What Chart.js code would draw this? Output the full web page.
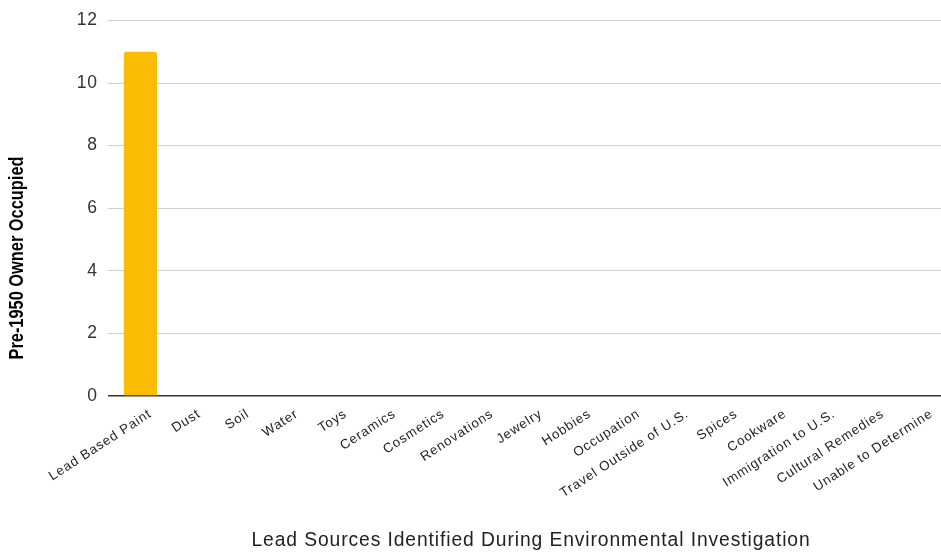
<!DOCTYPE html>
<html>
<head>
<meta charset="utf-8">
<script src="https://cdn.jsdelivr.net/npm/chart.js@4/dist/chart.umd.min.js"></script>
<style>
  html, body { margin: 0; padding: 0; background: #fff; overflow: hidden; }
  canvas { display: block; }
</style>
</head>
<body>
<canvas id="chart" width="946" height="552"></canvas>
<script>
// Lead source categories and the number of pre-1950 owner-occupied cases per source
const sources = [
  'Lead Based Paint', 'Dust', 'Soil', 'Water', 'Toys', 'Ceramics', 'Cosmetics',
  'Renovations', 'Jewelry', 'Hobbies', 'Occupation', 'Travel Outside of U.S.',
  'Spices', 'Cookware', 'Immigration to U.S.', 'Cultural Remedies', 'Unable to Determine'
];
const ownerOccupiedCounts = [11, 0, 0, 0, 0, 0, 0, 0, 0, 0, 0, 0, 0, 0, 0, 0, 0];

// Value axis range
const yMin = 0;
const yMax = 12;
const yStep = 2;

const xTitle = 'Lead Sources Identified During Environmental Investigation';
const yTitle = 'Pre-1950 Owner Occupied';

const FONT = '"Liberation Sans", Arial, sans-serif';

// Slightly wider lettering for all axis text
const spacingPlugin = {
  id: 'spacingPlugin',
  beforeDraw(chart) {
    chart.ctx.letterSpacing = '0.9px';
  }
};

// Vertical axis title, drawn bold and condensed along its length
const yTitlePlugin = {
  id: 'yTitlePlugin',
  afterDraw(chart) {
    const ctx = chart.ctx;
    ctx.save();
    ctx.letterSpacing = '0px';
    ctx.translate(18, 258);
    ctx.rotate(-Math.PI / 2);
    ctx.scale(0.84, 1);
    ctx.font = 'bold 19.5px ' + FONT;
    ctx.fillStyle = '#000';
    ctx.textAlign = 'center';
    ctx.textBaseline = 'middle';
    ctx.fillText(yTitle, 0, 0);
    ctx.restore();
  }
};

new Chart(document.getElementById('chart'), {
  type: 'bar',
  data: {
    labels: sources,
    datasets: [{
      data: ownerOccupiedCounts,
      backgroundColor: '#FBBC04',
      borderWidth: 0,
      borderRadius: { topLeft: 3, topRight: 3, bottomLeft: 0, bottomRight: 0 },
      borderSkipped: 'bottom',
      categoryPercentage: 1,
      barPercentage: 0.68
    }]
  },
  options: {
    responsive: false,
    devicePixelRatio: 1,
    animation: false,
    layout: { padding: { top: 20, right: 0, left: 0, bottom: 0 } },
    plugins: {
      legend: { display: false },
      tooltip: { enabled: false }
    },
    scales: {
      x: {
        grid: { display: false, drawTicks: false },
        border: { display: false },
        ticks: {
          color: '#222',
          font: { family: FONT, size: 13.3 },
          minRotation: 33,
          maxRotation: 33,
          autoSkip: false,
          padding: 10,
          labelOffset: 10
        },
        title: {
          display: true,
          text: xTitle,
          color: '#222',
          font: { family: FONT, size: 19.3 },
          padding: { top: 4, bottom: 0 }
        },
        afterFit(scale) { scale.height = 156; }
      },
      y: {
        min: yMin,
        max: yMax,
        grid: {
          color: (c) => (c.tick && c.tick.value === 0 ? '#333' : '#d0d0d0'),
          lineWidth: (c) => (c.tick && c.tick.value === 0 ? 1.5 : 1),
          tickLength: 8,
          drawTicks: true
        },
        border: { display: false },
        ticks: {
          stepSize: yStep,
          color: '#333',
          font: { family: FONT, size: 17.5 },
          padding: 10
        },
        afterFit(scale) { scale.width = 116; }
      }
    }
  },
  plugins: [spacingPlugin, yTitlePlugin]
});
</script>
</body>
</html>
